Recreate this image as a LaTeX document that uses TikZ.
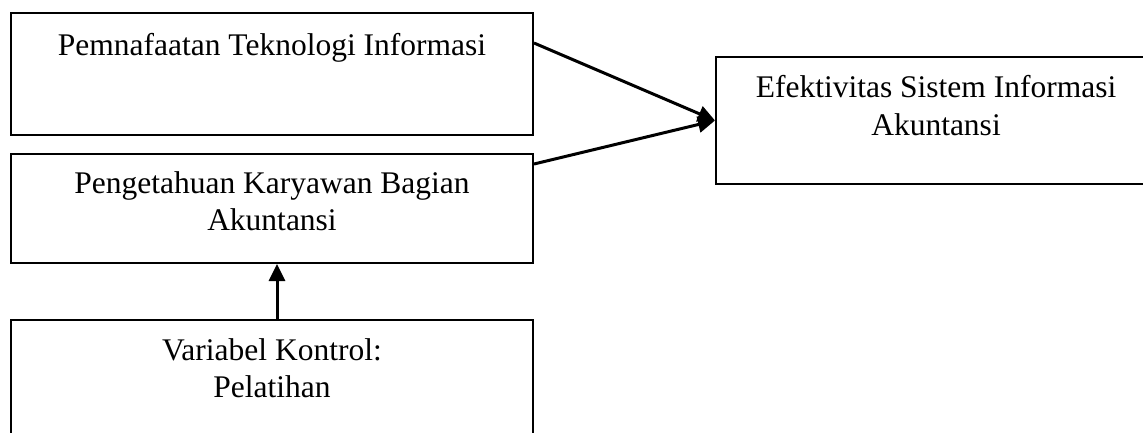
\documentclass[tikz,border=0pt]{standalone}
\usepackage{fontspec}
\setmainfont{Liberation Serif}
\usetikzlibrary{arrows.meta}

\tikzset{
  box/.style={draw, line width=2pt, minimum width=522pt, inner sep=0pt, anchor=north west},
  boxtext/.style={anchor=base, align=center, inner sep=0pt, font=\fontsize{31.5}{37.5}\selectfont},
  link/.style={line width=3pt, -{Triangle[length=17pt,width=16pt]}}
}

\begin{document}
\begin{tikzpicture}[x=1pt,y=-1pt]

\clip (0,0) rectangle (1143,432);

% boxes
\node[box, minimum height=122pt] (pti) at (10,12) {};
\node[box, minimum height=109pt] (pkb) at (10,153) {};
\node[box, minimum height=125pt] (kontrol) at (10,319) {};
\node[box, minimum width=440pt, minimum height=127pt] (esia) at (715,56) {};

% texts (base of a two-line node sits on its last line)
\node[boxtext] (pti-t) at ([yshift=-43pt]pti.north) {Pemnafaatan Teknologi Informasi};
\node[boxtext] (pkb-t) at ([yshift=-77.5pt]pkb.north) {Pengetahuan Karyawan Bagian\\Akuntansi};
\node[boxtext] (kontrol-t) at ([yshift=-78.5pt]kontrol.north) {Variabel Kontrol:\\Pelatihan};
\node[boxtext] (esia-t) at ([yshift=-79pt]esia.north) {Efektivitas Sistem Informasi\\Akuntansi};

% arrows
\draw[link] ([yshift=-31pt]pti.north east) -- (esia.west);
\draw[link] ([yshift=-11pt]pkb.north east) -- (esia.west);
\draw[link] ([xshift=5pt]kontrol.north) -- ([xshift=5pt]pkb.south);

\end{tikzpicture}
\end{document}
